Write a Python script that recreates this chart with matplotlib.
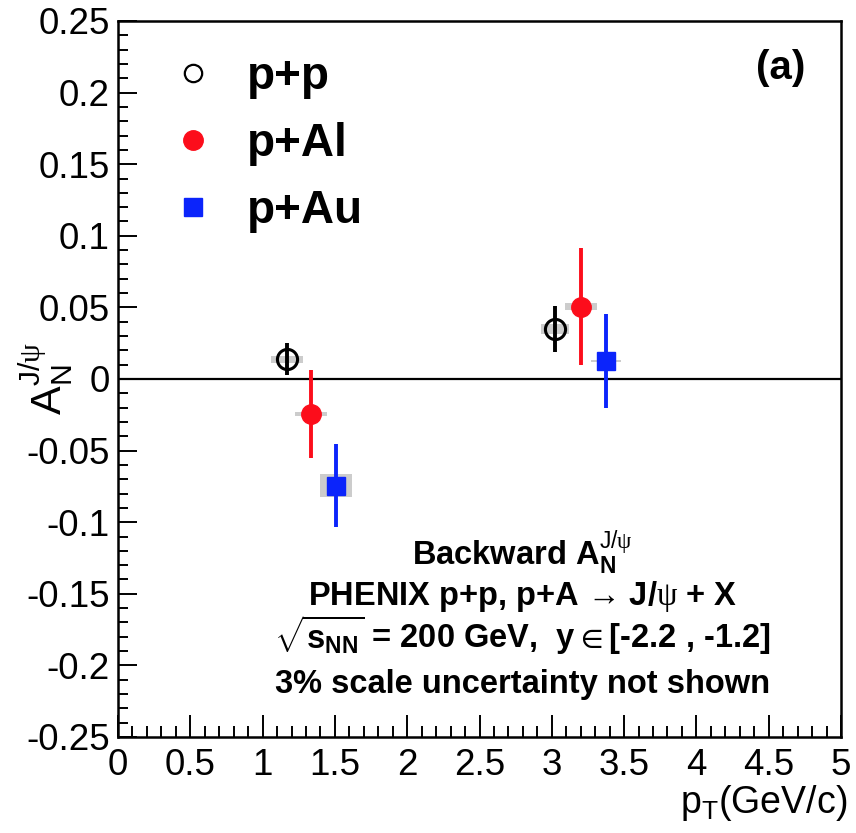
import matplotlib
matplotlib.use("Agg")
import matplotlib.pyplot as plt
from matplotlib.ticker import MultipleLocator, FuncFormatter
from matplotlib.lines import Line2D

plt.rcParams['font.family'] = ['Liberation Sans', 'DejaVu Sans']
plt.rcParams['mathtext.fontset'] = 'custom'
plt.rcParams['mathtext.rm'] = 'Liberation Sans'
plt.rcParams['mathtext.sf'] = 'Liberation Serif'
plt.rcParams['mathtext.default'] = 'regular'
plt.rcParams['axes.unicode_minus'] = False

# ---- data ----
pt_pp = [1.167, 3.022]
an_pp = [0.0138, 0.0347]
stat_pp = [0.011, 0.016]
sys_pp = [0.0025, 0.0035]
bw_pp = [0.22, 0.20]

pt_pal = [1.335, 3.202]
an_pal = [-0.0244, 0.0505]
stat_pal = [0.031, 0.041]
sys_pal = [0.0015, 0.0025]
bw_pal = [0.22, 0.22]

pt_pau = [1.508, 3.375]
an_pau = [-0.0745, 0.0126]
stat_pau = [0.029, 0.033]
sys_pau = [0.008, 0.001]
bw_pau = [0.22, 0.21]

labels = ['p+p', 'p+Al', 'p+Au']
red = '#fc0d1b'
blue = '#0b24fb'
gray = '#cccccc'

fig = plt.figure(figsize=(8.56, 8.33), dpi=100)
ax = fig.add_axes([118/856, 1-737/833, 723/856, 716/833])

ax.axhline(0, color='black', lw=1.6, zorder=1)

series = [
    (pt_pp, an_pp, stat_pp, sys_pp, bw_pp, 'black', 'o', 'none'),
    (pt_pal, an_pal, stat_pal, sys_pal, bw_pal, red, 'o', red),
    (pt_pau, an_pau, stat_pau, sys_pau, bw_pau, blue, 's', blue),
]
for x, y, st, sy, bw, c, m, fc in series:
    ax.bar(x, [2*s for s in sy], bottom=[yy - s for yy, s in zip(y, sy)],
           width=bw, color=gray, edgecolor='none', zorder=2)
    ax.errorbar(x, y, yerr=st, fmt='none', ecolor=c, elinewidth=2.8,
                capsize=0, zorder=3)
    if m == 'o' and fc == 'none':
        ax.plot(x, y, ls='none', marker='o', ms=14.5, mfc='none', mec=c,
                mew=2.2, zorder=4)
    elif m == 's':
        ax.plot(x, y, ls='none', marker=m, ms=12.5, mfc=fc, mec=fc, zorder=4)
    else:
        ax.plot(x, y, ls='none', marker=m, ms=14, mfc=fc, mec=fc, zorder=4)

handles = [
    Line2D([], [], ls='none', marker='o', ms=12.5, mfc='none', mec='black', mew=1.6),
    Line2D([], [], ls='none', marker='o', ms=14, mfc=red, mec=red),
    Line2D([], [], ls='none', marker='s', ms=13, mfc=blue, mec=blue),
]
leg = ax.legend(handles, labels, loc='upper left', bbox_to_anchor=(0.042, 0.997),
                frameon=False, handlelength=0.55, handletextpad=0.9,
                labelspacing=0.5, borderaxespad=0.3,
                prop={'weight': 'bold', 'size': 33})

ax.set_xlim(0, 5)
ax.set_ylim(-0.25, 0.25)
ax.xaxis.set_major_locator(MultipleLocator(0.5))
ax.xaxis.set_minor_locator(MultipleLocator(0.1))
ax.yaxis.set_major_locator(MultipleLocator(0.05))
ax.yaxis.set_minor_locator(MultipleLocator(0.01))
fmt = FuncFormatter(lambda v, p: '%g' % round(v, 3))
ax.xaxis.set_major_formatter(fmt)
ax.yaxis.set_major_formatter(fmt)
ax.tick_params(axis='both', which='both', direction='in', top=False, right=False,
               width=1.4, labelsize=26.5)
ax.tick_params(axis='x', which='major', length=16, pad=8)
ax.tick_params(axis='x', which='minor', length=8)
ax.tick_params(axis='y', which='major', length=14, pad=6)
ax.tick_params(axis='y', which='minor', length=7)
for s in ax.spines.values():
    s.set_linewidth(1.8)

ax.set_xlabel(r'p$_{T}$(GeV/c)', fontsize=27, loc='right')
ax.xaxis.set_label_coords(1.008, -0.064)
ax.set_ylabel(r'$A_{N}^{J/\mathsf{\psi}}$', fontsize=31)
ax.yaxis.set_label_coords(-0.058, 0.5)

ax.text(0.916, 0.934, '(a)', transform=ax.transAxes, ha='center', va='center',
        fontsize=29, fontweight='bold')

tx = 0.559
kw = dict(transform=ax.transAxes, ha='center', va='baseline', fontsize=23.5,
          fontweight='bold')
ax.text(tx, 0.240, r'Backward $A_{N}^{\mathrm{J/}\mathsf{\psi}}$', **kw)
ax.text(tx, 0.184, r'PHENIX p+p, p+A → J/$\mathsf{\psi}$ + X', **kw)
ax.text(tx, 0.124, r'$\sqrt{s_{NN}}$ = 200 GeV,  y$\in$[-2.2 , -1.2]', **kw)
ax.text(tx, 0.0615, '3% scale uncertainty not shown', **kw)

fig.savefig('out.png', dpi=100)
